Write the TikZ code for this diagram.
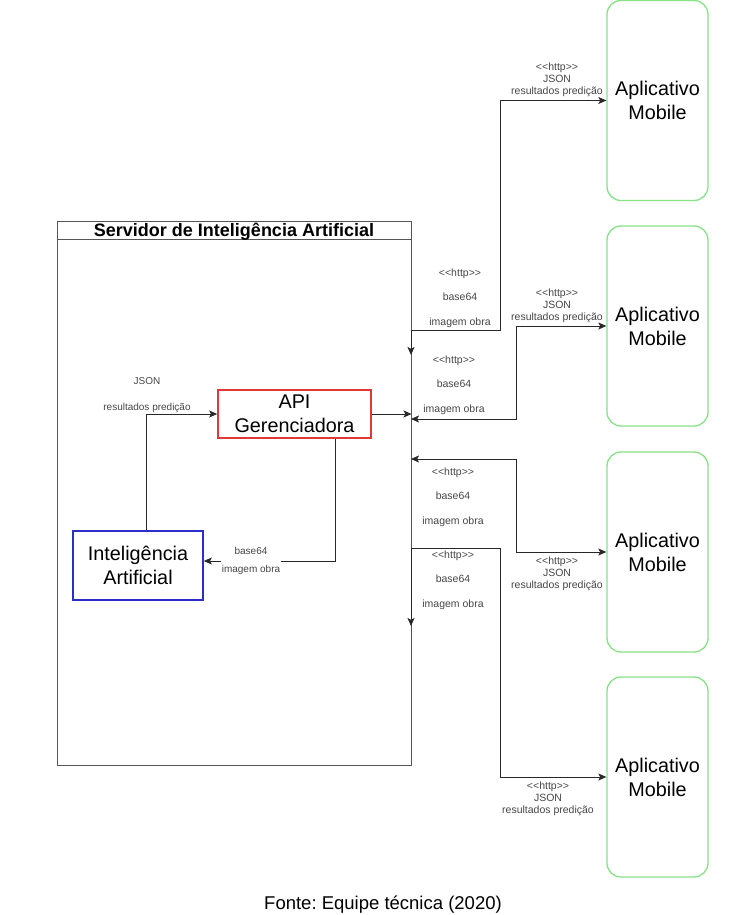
\documentclass[tikz,border=0pt]{standalone}
\usepackage{fontspec}
\setmainfont{Liberation Sans}[Ligatures=TeXOff]
\usepackage{tikz}
\usetikzlibrary{positioning,       % placement relatif
           calc,                   % calculs de coordonnees
           arrows.meta}            % pointes de fleches
\definecolor{srvgris}{RGB}{85,85,85}
\definecolor{lien}{RGB}{40,40,40}
\definecolor{txtgris}{RGB}{70,70,70}
\definecolor{apirouge}{RGB}{225,55,55}
\definecolor{iableu}{RGB}{45,45,200}
\definecolor{mobvert}{RGB}{135,225,135}
\frenchspacing
\tikzset{
  boite/.style={draw, inner sep=0pt, align=center, font=\fontsize{19.8}{24}\selectfont},
  mobile/.style={boite, draw=mobvert, line width=1.3pt, rounded corners=14pt,
                 minimum width=101pt, minimum height=200pt},
  lbl/.style={inner sep=1pt, align=center, text=txtgris, font=\fontsize{10.5}{12}\selectfont},
  lblsrv/.style={lbl, font=\fontsize{10.5}{24.5}\selectfont},
  fleche/.style={draw=lien, line width=0.9pt, >={Stealth[length=8pt,width=7pt,inset=1.8pt]}}
}

\begin{document}
\begin{tikzpicture}[x=1pt,y=-1pt]
\useasboundingbox (0,0) rectangle (742,915);
% serveur
\node[draw=srvgris, line width=1pt, minimum width=354, minimum height=544, inner sep=0pt] (srv) at (234,493) {};
\draw[srvgris, line width=1pt] ($(srv.north west)+(0,19)$) -- ($(srv.north east)+(0,19)$);
\node[font=\bfseries\fontsize{18}{20}\selectfont] (titre) at (234,232) {Servidor de Inteligência Artificial};
\node[boite, draw=apirouge, line width=1.6pt, minimum width=153, minimum height=48] (api) at (294.5,414) {API\\Gerenciadora};
\node[boite, draw=iableu, line width=1.6pt, minimum width=130, minimum height=69] (ia) at (138,565.5) {Inteligência\\Artificial};
\foreach \i/\y in {1/100.5,2/326,3/552,4/777}
  \node[mobile] (m\i) at (657.5,\y) {Aplicativo\\Mobile};
% liens internes
\draw[fleche,->] ([xshift=8pt]ia.north) |- (api.west);
\node[lbl, font=\fontsize{10}{26}\selectfont] (l0) at (147,395) {JSON\\resultados predição};
\draw[fleche,->] ([xshift=40.5pt]api.south) |- ([yshift=4.5pt]ia.east);
\node[lbl, fill=white, font=\fontsize{10}{18}\selectfont] (l00) at (251,561) {base64\\imagem obra};
\draw[fleche,->] (api.east) -- (api.east -| srv.east);
% liens vers les mobiles
\coordinate (s1) at (411,330); \coordinate (f1) at (411,355);
\coordinate (s2) at (411,419);
\coordinate (s3) at (411,459);
\coordinate (s4) at (411,548); \coordinate (f4) at (411,626);
\draw[fleche,<->] (m1.west) -| (500,330) -- (s1) -- (f1);
\draw[fleche,<->] (m2.west) -| (516,419) -- (s2);
\draw[fleche,<->] (m3.west) -| (516,459) -- (s3);
\draw[fleche,<->] (m4.west) -| (500,548) -- (s4) -- (f4);
\node[lblsrv] (l1s) at (460,298) {<<http>>\\base64\\imagem obra};
\node[lbl] (l1m) at (557,80) {<<http>>\\JSON\\resultados predição};
\node[lblsrv] (l2s) at (454,385) {<<http>>\\base64\\imagem obra};
\node[lbl] (l2m) at (557,306) {<<http>>\\JSON\\resultados predição};
\node[lblsrv] (l3s) at (453,497) {<<http>>\\base64\\imagem obra};
\node[lbl] (l3m) at (557,574) {<<http>>\\JSON\\resultados predição};
\node[lblsrv] (l4s) at (453,580) {<<http>>\\base64\\imagem obra};
\node[lbl] (l4m) at (548,799) {<<http>>\\JSON\\resultados predição};
% source
\node[font=\fontsize{18.5}{20}\selectfont] (src) at (383,905) {Fonte: Equipe técnica (2020)};
\end{tikzpicture}
\end{document}
